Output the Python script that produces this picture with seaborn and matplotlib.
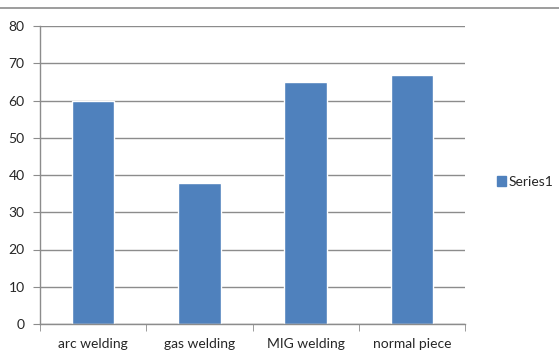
import matplotlib
matplotlib.use("Agg")
import matplotlib.pyplot as plt
import seaborn as sns
import pandas as pd
from matplotlib.lines import Line2D
from matplotlib.ticker import FixedLocator

categories = ["arc welding", "gas welding", "MIG welding", "normal piece"]
values = [60, 37.8, 65.0, 66.8]
series_name = "Series1"
yticks = [0, 10, 20, 30, 40, 50, 60, 70, 80]

df = pd.DataFrame({"category": categories, "value": values, "series": [series_name] * len(categories)})

sns.set_style("white")
plt.rcParams["font.family"] = ["Lato", "DejaVu Sans"]

fig = plt.figure(figsize=(5.59, 3.6), dpi=100)
ax = fig.add_axes([40 / 559, 1 - 324 / 360, 425 / 559, 298 / 360])

sns.barplot(data=df, x="category", y="value", hue="series", palette=["#4F81BD"],
            width=0.4, ax=ax, legend=False, saturation=1)

ax.set_xlim(-0.5, len(categories) - 0.5)
ax.set_ylim(0, 80)
ax.set_yticks(yticks)
ax.yaxis.grid(True, color="#8c8c8c", linewidth=1)
ax.set_axisbelow(True)
ax.set_xlabel("")
ax.set_ylabel("")
for s in ["top", "right"]:
    ax.spines[s].set_visible(False)
for s in ["left", "bottom"]:
    ax.spines[s].set_color("#8c8c8c")
    ax.spines[s].set_linewidth(1)

ax.tick_params(axis="y", which="major", direction="out", length=5, color="#8c8c8c",
               labelsize=10, pad=6, left=True)
ax.tick_params(axis="x", which="major", length=0, labelsize=10, pad=10)
ax.xaxis.set_minor_locator(FixedLocator([i - 0.5 for i in range(len(categories) + 1)]))
ax.tick_params(axis="x", which="minor", direction="out", length=5, color="#8c8c8c", bottom=True)

handle = plt.Rectangle((0, 0), 1, 1, color="#4F81BD")
fig.legend([handle], [series_name], loc="center left", bbox_to_anchor=(484 / 559, 1 - 182 / 360),
           frameon=False, fontsize=10, handlelength=0.7, handleheight=0.7, handletextpad=0.2)

fig.add_artist(Line2D([0, 1], [1 - 8 / 360, 1 - 8 / 360], color="#8c8c8c", linewidth=1.2,
                      transform=fig.transFigure))

fig.savefig("out.png", dpi=100)
